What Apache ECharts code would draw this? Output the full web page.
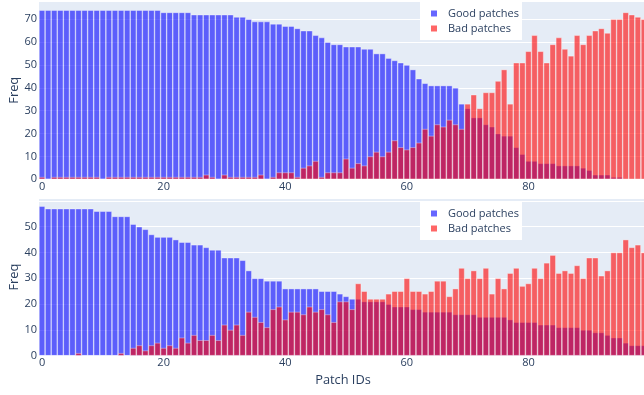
<!DOCTYPE html>
<html>
<head>
<meta charset="utf-8">
<script src="https://cdn.jsdelivr.net/npm/echarts@6/dist/echarts.min.js"></script>
<style>
  html, body { margin: 0; padding: 0; background: #ffffff; }
  #chart { width: 644px; height: 395px; }
</style>
</head>
<body>
<div id="chart"></div>
<script>
// Patch IDs along the x axis
const patchIds = Array.from({ length: 100 }, (_, i) => String(i));

// Upper panel: frequency per patch
const upperGood = [
  74, 74, 74, 74, 74, 74, 74, 74, 74, 74, 74, 74, 74, 74, 74, 74, 74, 74, 74, 74,
  73, 73, 73, 73, 73, 72, 72, 72, 72, 72, 72, 72, 71, 71, 70, 69, 69, 69, 68, 68,
  67, 67, 66, 65, 65, 63, 62, 60, 59, 59, 58, 58, 58, 57, 57, 55, 55, 53, 52, 51,
  50, 48, 44, 42, 41, 41, 41, 41, 40, 33, 31, 27, 27, 24, 23, 20, 19, 19, 14, 11,
  8, 8, 7, 7, 7, 6, 6, 6, 6, 5, 4, 2, 2, 2, 1, 1, 0, 0, 0, 0
];
const upperBad = [
  1, 0, 1, 1, 1, 1, 1, 1, 1, 1, 0, 1, 1, 1, 1, 1, 1, 1, 1, 1,
  1, 1, 1, 1, 1, 1, 1, 2, 1, 0, 2, 1, 1, 1, 1, 1, 2, 0, 1, 3,
  3, 3, 1, 5, 6, 8, 1, 3, 3, 3, 9, 5, 7, 6, 10, 12, 10, 12, 17, 14,
  13, 14, 16, 22, 19, 24, 23, 26, 24, 22, 33, 37, 31, 38, 38, 43, 48, 33, 51, 51,
  56, 63, 56, 51, 59, 62, 57, 54, 63, 59, 63, 65, 66, 64, 70, 70, 73, 72, 71, 70
];

// Lower panel: frequency per patch
const lowerGood = [
  58, 57, 57, 57, 57, 57, 57, 57, 57, 56, 56, 56, 54, 54, 54, 51, 50, 49, 47, 46,
  46, 46, 45, 44, 44, 43, 43, 42, 41, 41, 38, 38, 38, 37, 33, 30, 30, 29, 29, 29,
  26, 26, 26, 26, 26, 26, 25, 25, 25, 24, 23, 22, 22, 21, 21, 21, 21, 20, 19, 19,
  19, 18, 18, 17, 17, 17, 17, 17, 16, 16, 16, 16, 15, 15, 15, 15, 15, 14, 13, 13,
  13, 13, 12, 12, 12, 11, 11, 11, 11, 10, 10, 9, 9, 8, 7, 7, 5, 4, 4, 4
];
const lowerBad = [
  0, 0, 0, 0, 0, 0, 1, 0, 0, 0, 0, 0, 0, 1, 0, 3, 4, 2, 4, 5,
  3, 4, 3, 7, 5, 8, 6, 6, 8, 6, 12, 10, 12, 8, 17, 15, 13, 11, 18, 19,
  14, 17, 17, 16, 19, 17, 18, 16, 13, 21, 21, 18, 28, 25, 22, 22, 22, 24, 25, 25,
  30, 25, 25, 24, 25, 29, 29, 23, 26, 34, 30, 33, 30, 34, 24, 30, 26, 32, 34, 27,
  28, 34, 30, 36, 39, 32, 33, 32, 35, 30, 38, 38, 31, 33, 40, 40, 45, 42, 43, 40
];

const seriesNames = ['Good patches', 'Bad patches'];
const INK = '#2a3f5f';
const FONT = '"Open Sans", "DejaVu Sans", sans-serif';
const TICK_SIZE = 11;
const TITLE_SIZE = 12.8;
const BLUE = '#0000ff';
const RED = '#ff0000';

const chart = echarts.init(document.getElementById('chart'), null, { renderer: 'canvas' });

function makeX(gridIndex, title) {
  return {
    type: 'category',
    gridIndex: gridIndex,
    data: patchIds,
    boundaryGap: true,
    axisLine: { show: false },
    axisTick: { show: false },
    splitLine: { show: false },
    axisLabel: {
      interval: 19, margin: 2, fontSize: TICK_SIZE, color: INK, fontFamily: FONT
    },
    name: title || '',
    nameLocation: 'middle',
    nameGap: 18,
    nameMoveOverlap: false,
    nameTextStyle: { fontSize: TITLE_SIZE, color: INK, fontFamily: FONT }
  };
}

function makeY(gridIndex, maxVal, topLabel) {
  return {
    type: 'value',
    gridIndex: gridIndex,
    min: 0,
    max: maxVal,
    interval: 10,
    axisLine: { show: false },
    axisTick: { show: false },
    splitLine: { show: true, lineStyle: { color: '#ffffff', width: 1 } },
    axisLabel: {
      margin: 2, fontSize: TICK_SIZE, color: INK, fontFamily: FONT, showMaxLabel: false,
      formatter: (v) => (v <= topLabel ? String(v) : '')
    },
    name: 'Freq',
    nameLocation: 'middle',
    nameGap: 18.5,
    nameMoveOverlap: false,
    nameTextStyle: { fontSize: TITLE_SIZE, color: INK, fontFamily: FONT }
  };
}

function makeBar(name, data, color, axisIndex) {
  return {
    type: 'bar',
    name: name,
    xAxisIndex: axisIndex,
    yAxisIndex: axisIndex,
    data: data,
    barGap: '-100%',
    barCategoryGap: '0%',
    itemStyle: { color: color, opacity: 0.6, borderColor: '#ffffff', borderWidth: 0.6 },
    emphasis: { disabled: true }
  };
}

function makeLegend(top) {
  return {
    data: [
      { name: seriesNames[0], itemStyle: { color: '#6666ff', opacity: 1 } },
      { name: seriesNames[1], itemStyle: { color: '#ff6666', opacity: 1 } }
    ],
    orient: 'vertical',
    left: 420,
    top: top,
    backgroundColor: '#ffffff',
    padding: [5, 3, 5, 9],
    itemWidth: 8,
    itemHeight: 8,
    itemGap: 2,
    icon: 'rect',
    selectedMode: false,
    textStyle: { fontSize: TICK_SIZE, color: INK, fontFamily: FONT, padding: [0, 0, 0, 5], lineHeight: 13 }
  };
}

chart.setOption({
  animation: false,
  backgroundColor: '#ffffff',
  grid: [
    { left: 39, top: 1.2, width: 608, height: 178.1, show: true, backgroundColor: '#e5ecf6',
      borderWidth: 0, containLabel: false, outerBoundsMode: 'none' },
    { left: 39, top: 198.6, width: 608, height: 157.1, show: true, backgroundColor: '#e5ecf6',
      borderWidth: 0, containLabel: false, outerBoundsMode: 'none' }
  ],
  xAxis: [makeX(0), makeX(1, 'Patch IDs')],
  yAxis: [makeY(0, 77.9, 70), makeY(1, 60.9, 50)],
  legend: [makeLegend(2), makeLegend(202)],
  series: [
    makeBar(seriesNames[0], upperGood, BLUE, 0),
    makeBar(seriesNames[1], upperBad, RED, 0),
    makeBar(seriesNames[0], lowerGood, BLUE, 1),
    makeBar(seriesNames[1], lowerBad, RED, 1)
  ]
});
</script>
</body>
</html>
